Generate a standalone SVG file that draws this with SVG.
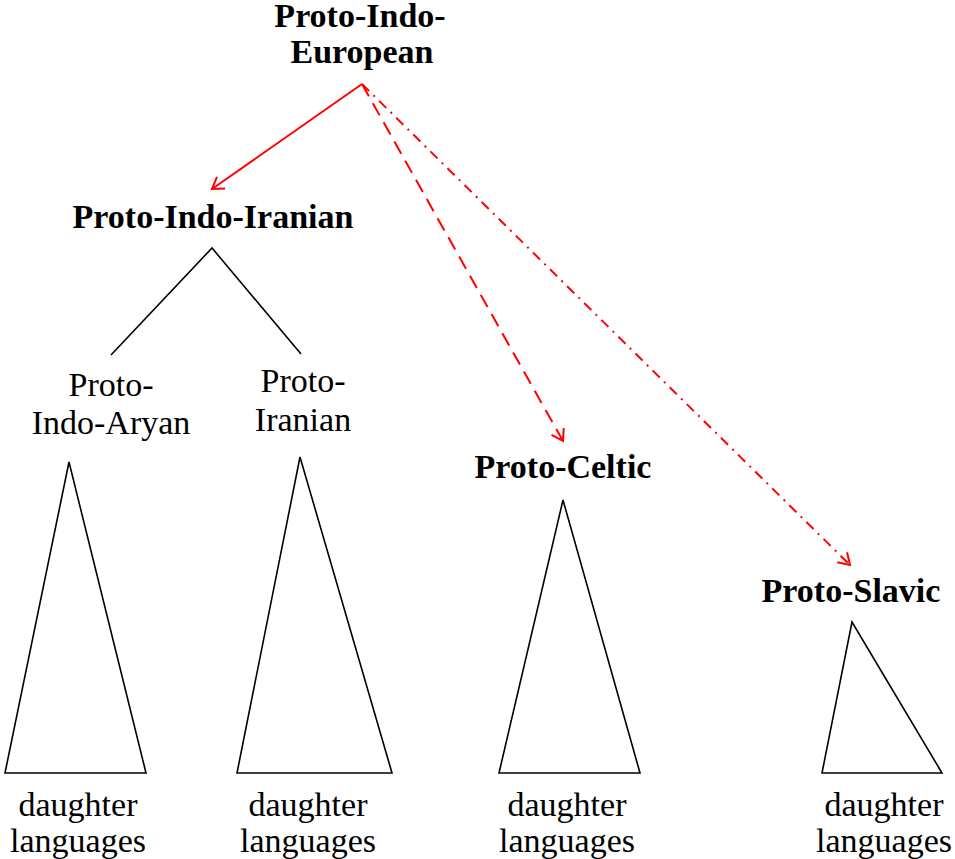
<svg xmlns="http://www.w3.org/2000/svg" width="955" height="859" viewBox="0 0 955 859">
<defs>
<marker id="ah" viewBox="-12 -8 14 16" markerWidth="14" markerHeight="16" refX="0" refY="0" orient="auto" markerUnits="userSpaceOnUse">
<path d="M-11,-7 L0,0 L-11,7" fill="none" stroke="#ff0000" stroke-width="2"/>
</marker>
</defs>
<g id="connectors" fill="none" stroke="#ff0000" stroke-width="2">
<line x1="362" y1="84" x2="212" y2="189" marker-end="url(#ah)"/>
<line x1="362" y1="84" x2="563" y2="441" stroke-dasharray="14,8" marker-end="url(#ah)"/>
<line x1="362" y1="84" x2="850" y2="565" stroke-dasharray="10,6,2,6" marker-end="url(#ah)"/>
<path d="M111,355 L212,248 L301,354" stroke="#000" stroke-width="1.6"/>
</g>
<g id="pie"><text font-family="Liberation Serif" font-size="34" font-weight="bold" text-anchor="middle" x="360" y="27">Proto-Indo-</text><text font-family="Liberation Serif" font-size="34" font-weight="bold" text-anchor="middle" x="362" y="63">European</text></g>
<g id="pii"><text font-family="Liberation Serif" font-size="34" font-weight="bold" text-anchor="middle" x="213" y="228">Proto-Indo-Iranian</text></g>
<g id="pia"><text font-family="Liberation Serif" font-size="34" text-anchor="middle" x="111" y="396">Proto-</text><text font-family="Liberation Serif" font-size="34" text-anchor="middle" x="111" y="434">Indo-Aryan</text>
<path d="M69,462 L5,773 L146,773 Z" fill="none" stroke="#000" stroke-width="1.6"/><text font-family="Liberation Serif" font-size="34" text-anchor="middle" x="78" y="816">daughter</text><text font-family="Liberation Serif" font-size="34" text-anchor="middle" x="78" y="852">languages</text></g>
<g id="pir"><text font-family="Liberation Serif" font-size="34" text-anchor="middle" x="303" y="392">Proto-</text><text font-family="Liberation Serif" font-size="34" text-anchor="middle" x="303" y="431">Iranian</text>
<path d="M300,457 L237,773 L392,773 Z" fill="none" stroke="#000" stroke-width="1.6"/><text font-family="Liberation Serif" font-size="34" text-anchor="middle" x="308" y="816">daughter</text><text font-family="Liberation Serif" font-size="34" text-anchor="middle" x="308" y="852">languages</text></g>
<g id="pce"><text font-family="Liberation Serif" font-size="34" font-weight="bold" text-anchor="middle" x="563" y="478">Proto-Celtic</text>
<path d="M563,500 L499,773 L640,773 Z" fill="none" stroke="#000" stroke-width="1.6"/><text font-family="Liberation Serif" font-size="34" text-anchor="middle" x="567" y="816">daughter</text><text font-family="Liberation Serif" font-size="34" text-anchor="middle" x="567" y="852">languages</text></g>
<g id="psl"><text font-family="Liberation Serif" font-size="34" font-weight="bold" text-anchor="middle" x="851" y="602">Proto-Slavic</text>
<path d="M852,622 L822,773 L942,773 Z" fill="none" stroke="#000" stroke-width="1.6"/><text font-family="Liberation Serif" font-size="34" text-anchor="middle" x="884" y="816">daughter</text><text font-family="Liberation Serif" font-size="34" text-anchor="middle" x="884" y="852">languages</text></g>
</svg>
